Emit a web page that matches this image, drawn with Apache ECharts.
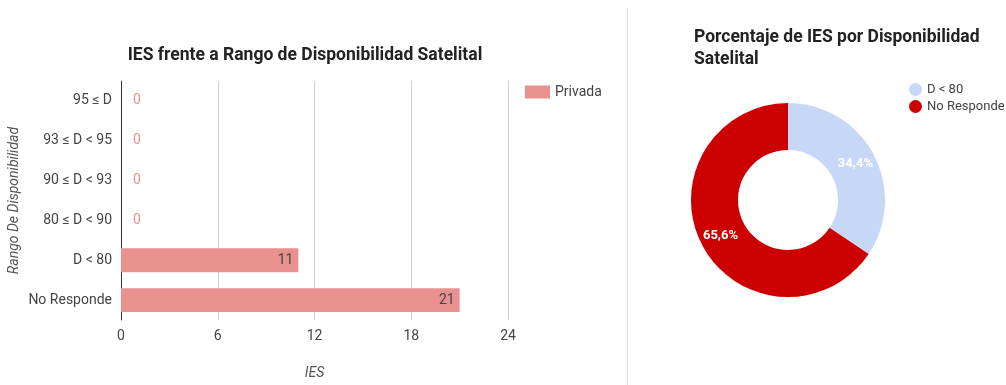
<!DOCTYPE html>
<html>
<head>
<meta charset="utf-8">
<script src="https://cdn.jsdelivr.net/npm/echarts@6/dist/echarts.min.js"></script>
<style>
  html, body { margin: 0; padding: 0; background: #fff; }
  #charts { width: 1006px; height: 385px; }
</style>
</head>
<body>
<div id="charts"></div>
<script>
// datos
const rangos = ['95 ≤ D', '93 ≤ D < 95', '90 ≤ D < 93', '80 ≤ D < 90', 'D < 80', 'No Responde'];
const privada = [0, 0, 0, 0, 11, 21];
const ticksIES = [0, 6, 12, 18, 24];
const pieNombres = ['D < 80', 'No Responde'];
const pieValores = [11, 21];

const barColor = '#e8918f';
const font = 'Roboto, "Liberation Sans", Arial, sans-serif';

let myChart = echarts.init(document.getElementById('charts'));
myChart.setOption({
    textStyle: { fontFamily: font },
    animation: false,
    title: [
        {
            text: 'IES frente a Rango de Disponibilidad Satelital',
            left: 300, top: 42, textAlign: 'center',
            textStyle: { fontSize: 17.5, fontWeight: 'bold', color: '#222', fontFamily: font }
        },
        {
            text: 'Porcentaje de IES por Disponibilidad\nSatelital',
            left: 689, top: 22,
            textStyle: { fontSize: 17.5, fontWeight: 'bold', color: '#222', lineHeight: 22, fontFamily: font }
        }
    ],
    legend: [
        {
            data: ['Privada'],
            left: 520, top: 80,
            itemWidth: 25, itemHeight: 13,
            itemGap: 8,
            icon: 'rect',
            textStyle: { fontSize: 14, color: '#444', fontFamily: font }
        },
        {
            data: pieNombres,
            orient: 'vertical',
            left: 904, top: 78,
            itemWidth: 13, itemHeight: 13, itemGap: 4,
            icon: 'circle',
            textStyle: { fontSize: 13, color: '#444', fontFamily: font }
        }
    ],
    grid: { left: 121, right: 498, top: 81, bottom: 65, containLabel: false },
    xAxis: {
        type: 'value',
        min: ticksIES[0], max: ticksIES[ticksIES.length - 1], interval: ticksIES[1] - ticksIES[0],
        name: 'IES', nameLocation: 'middle', nameGap: 46,
        nameTextStyle: { fontStyle: 'italic', color: '#555', fontSize: 14 },
        axisLine: { show: false },
        axisTick: { show: false },
        axisLabel: { color: '#444', fontSize: 14, margin: 9 },
        splitLine: { lineStyle: { color: '#cccccc' } }
    },
    yAxis: {
        type: 'category',
        data: rangos,
        inverse: true,
        name: 'Rango De Disponibilidad', nameLocation: 'middle', nameGap: 100,
        nameTextStyle: { fontStyle: 'italic', color: '#555', fontSize: 14 },
        axisLine: { lineStyle: { color: '#333' } },
        axisTick: { show: false },
        axisLabel: { color: '#444', fontSize: 14, margin: 9 }
    },
    series: [
        {
            name: 'Privada',
            type: 'bar',
            barWidth: '60%',
            itemStyle: { color: barColor },
            data: privada.map(v => ({
                value: v,
                label: v === 0
                    ? { show: true, position: 'right', distance: 12, color: barColor }
                    : { show: true, position: 'insideRight', distance: 5, color: '#444' }
            })),
            label: { fontSize: 14 }
        },
        {
            name: 'pie',
            type: 'pie',
            center: [788, 200],
            radius: [50, 97],
            startAngle: 90,
            clockwise: true,
            data: pieNombres.map((n, i) => ({ name: n, value: pieValores[i] })),
            color: ['#c6d8f5', '#cc0000'],
            label: {
                position: 'inside',
                color: '#fff',
                fontSize: 13,
                fontWeight: 'bold',
                formatter: p => p.percent.toFixed(1).replace('.', ',') + '%'
            },
            labelLine: { show: false },
            itemStyle: { borderColor: '#fff', borderWidth: 0 }
        }
    ],
    graphic: [
        {
            type: 'line',
            shape: { x1: 627.5, y1: 8, x2: 627.5, y2: 385 },
            style: { stroke: '#dddddd', lineWidth: 1 }
        }
    ]
});
</script>
</body>
</html>
